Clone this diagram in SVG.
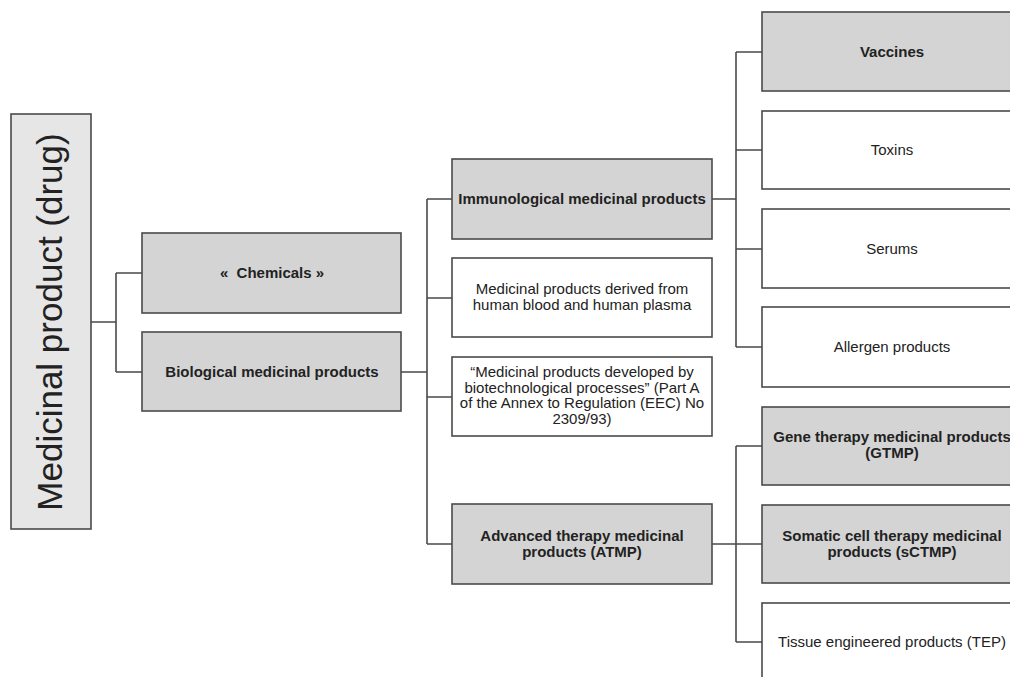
<svg xmlns="http://www.w3.org/2000/svg" width="1010" height="677" viewBox="0 0 1010 677">
<style>
.box{stroke:#4a4a4a;stroke-width:1.6}
.g{fill:#d4d4d4}
.w{fill:#ffffff}
.r{fill:#e6e6e6}
.t{font-family:"Liberation Sans",Arial,sans-serif;font-size:15px;fill:#222;text-anchor:middle}
.b{font-weight:bold}
.c{stroke:#4a4a4a;stroke-width:1.6;fill:none}
</style>
<rect width="1010" height="677" fill="#ffffff"/>
<g id="connectors">
<path class="c" d="M91,322H116M116,273V372M116,273H142M116,372H142"/>
<path class="c" d="M401,372H427M427,199V544M427,199H452M427,298H452M427,397H452M427,544H452"/>
<path class="c" d="M712,199H736M736,52V347M736,52H762M736,150H762M736,249H762M736,347H762"/>
<path class="c" d="M712,544H762M736,446V642M736,446H762M736,642H762"/>
</g>
<g id="root">
<rect class="box r" x="11" y="114" width="80" height="415"/>
<text class="t" transform="translate(62,322) rotate(-90)" style="font-size:35px">Medicinal product (drug)</text>
</g>
<g id="chemicals">
<rect class="box g" x="142" y="233" width="259" height="80"/>
<text class="t b" x="272" y="278" xml:space="preserve">«  Chemicals »</text>
</g>
<g id="biological">
<rect class="box g" x="142" y="332" width="259" height="79"/>
<text class="t b" x="272" y="377">Biological medicinal products</text>
</g>
<g id="immunological">
<rect class="box g" x="452" y="159" width="260" height="80"/>
<text class="t b" x="582" y="204">Immunological medicinal products</text>
</g>
<g id="blood">
<rect class="box w" x="452" y="258" width="260" height="79"/>
<text class="t" x="582" y="294">Medicinal products derived from</text>
<text class="t" x="582" y="310">human blood and human plasma</text>
</g>
<g id="biotech">
<rect class="box w" x="452" y="357" width="260" height="79"/>
<text class="t" x="582" y="377">“Medicinal products developed by</text>
<text class="t" x="582" y="392.5">biotechnological processes” (Part A</text>
<text class="t" x="582" y="408">of the Annex to Regulation (EEC) No</text>
<text class="t" x="582" y="423.5">2309/93)</text>
</g>
<g id="atmp">
<rect class="box g" x="452" y="504" width="260" height="80"/>
<text class="t b" x="582" y="541">Advanced therapy medicinal</text>
<text class="t b" x="582" y="557">products (ATMP)</text>
</g>
<g id="vaccines">
<rect class="box g" x="762" y="12" width="260" height="79"/>
<text class="t b" x="892" y="57">Vaccines</text>
</g>
<g id="toxins">
<rect class="box w" x="762" y="111" width="260" height="78"/>
<text class="t" x="892" y="155">Toxins</text>
</g>
<g id="serums">
<rect class="box w" x="762" y="209" width="260" height="79"/>
<text class="t" x="892" y="254">Serums</text>
</g>
<g id="allergen">
<rect class="box w" x="762" y="307" width="260" height="80"/>
<text class="t" x="892" y="352">Allergen products</text>
</g>
<g id="gtmp">
<rect class="box g" x="762" y="407" width="260" height="78"/>
<text class="t b" x="892" y="442">Gene therapy medicinal products</text>
<text class="t b" x="892" y="458">(GTMP)</text>
</g>
<g id="sctmp">
<rect class="box g" x="762" y="505" width="260" height="78"/>
<text class="t b" x="892" y="541">Somatic cell therapy medicinal</text>
<text class="t b" x="892" y="557">products (sCTMP)</text>
</g>
<g id="tep">
<rect class="box w" x="762" y="603" width="260" height="80"/>
<text class="t" x="892" y="647">Tissue engineered products (TEP)</text>
</g>
</svg>
